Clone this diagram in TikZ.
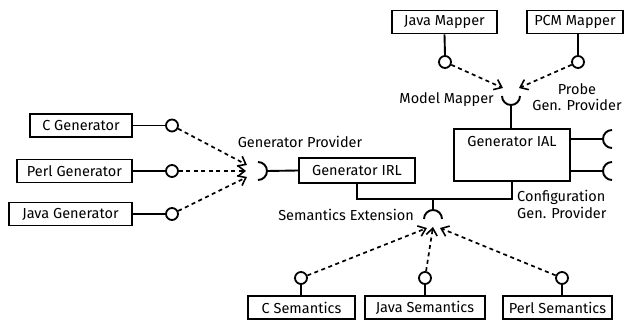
\documentclass[tikz,border=0pt]{standalone}
\usepackage{fontspec}
\setmainfont{Fira Sans}
\usetikzlibrary{arrows.meta}
\begin{document}
\begin{tikzpicture}[x=1pt,y=1pt,
  comp/.style={draw,line width=1.9pt,minimum height=23pt,inner sep=0pt,font=\fontsize{14.5}{17}\selectfont},
  lolli/.style={draw,circle,line width=1.8pt,minimum size=12pt,inner sep=0pt,fill=white},
  wire/.style={line width=1.9pt},
  sock/.style={line width=1.9pt},
  dep/.style={line width=1.7pt,dash pattern=on 4pt off 3.5pt,-{Straight Barb[length=7pt,width=11pt,line width=1.6pt]}},
  lbl/.style={font=\fontsize{14.5}{16.5}\selectfont,inner sep=0pt}]
\useasboundingbox (0,0) rectangle (633,-320);

% generator components on the left
\node[comp,minimum width=102pt] (cgen)    at (81,-125.5)   {C Generator};
\node[comp,minimum width=115pt] (perlgen) at (74.5,-171)   {Perl Generator};
\node[comp,minimum width=123pt] (javagen) at (70.5,-214)   {Java Generator};
\node[lolli] (cgc) at (172,-125.5) {};
\node[lolli] (pgc) at (172,-171) {};
\node[lolli] (jgc) at (172,-214) {};
\draw[wire] (cgen.east) -- (cgc.west);
\draw[wire] (perlgen.east) -- (pgc.west);
\draw[wire] (javagen.east) -- (jgc.west);

% generator IRL and its provider socket
\node[comp,minimum width=116pt,minimum height=25pt] (irl) at (357,-170.5) {Generator IRL};
\draw[sock] (258,-162) arc[start angle=90,end angle=-90,radius=9] coordinate[pos=0.5] (gpr);
\draw[wire] (gpr) -- (irl.west);
\coordinate (gp1) at (247,-165);
\coordinate (gp2) at (246,-171);
\coordinate (gp3) at (247,-177);
\draw[dep] (cgc) -- (gp1);
\draw[dep] (pgc) -- (gp2);
\draw[dep] (jgc) -- (gp3);
\node[lbl] (gplbl) at (300,-142) {Generator Provider};

% generator IAL
\node[draw,line width=1.9pt,minimum width=116pt,minimum height=52pt,inner sep=0pt] (ial) at (512,-155) {};
\node[lbl] (iallbl) at (512,-142) {Generator IAL};

% mappers
\node[comp,minimum width=105pt] (javamap) at (444.5,-22) {Java Mapper};
\node[comp,minimum width=96pt]  (pcmmap)  at (575,-22)   {PCM Mapper};
\node[lolli] (jmc) at (445,-62) {};
\node[lolli] (pmc) at (578,-62) {};
\draw[wire] (javamap.south) -- (jmc.north);
\draw[wire] (pcmmap.south -| pmc) -- (pmc.north);
\draw[sock] (502,-96) arc[start angle=180,end angle=360,radius=9] coordinate[pos=0.5] (mmb);
\draw[wire] (mmb) -- (mmb |- ial.north);
\coordinate (mm1) at (503,-88);
\coordinate (mm2) at (519,-88);
\draw[dep] (jmc) -- (mm1);
\draw[dep] (pmc) -- (mm2);
\node[lbl,anchor=east] (mmlbl) at (494,-100) {Model Mapper};
\node[lbl,align=center] (problbl) at (577,-97) {Probe\\Gen. Provider};

% provided sockets on the right of IAL
\draw[sock] (612,-130) arc[start angle=90,end angle=270,radius=9] coordinate[pos=0.5] (s1);
\draw[sock] (612,-162) arc[start angle=90,end angle=270,radius=9] coordinate[pos=0.5] (s2);
\draw[wire] (ial.east |- s1) -- (s1);
\draw[wire] (ial.east |- s2) -- (s2);

% bus between IRL and IAL with the semantics socket
\coordinate (bus) at (433,-199);
\draw[wire] (irl.south) |- (bus) -| (ial.south);
\draw[sock] (442,-219) arc[start angle=0,end angle=180,radius=9] coordinate[pos=0.5] (set);
\draw[wire] (bus) -- (set);
\node[lbl,align=left,anchor=west] (cfglbl) at (517,-204.5) {Configuration\\Gen. Provider};
\node[lbl,anchor=east] (selbl) at (414,-215) {Semantics Extension};

% semantics components
\node[comp,minimum width=107pt] (csem)    at (301.5,-307.5) {C Semantics};
\node[comp,minimum width=120pt] (javasem) at (425,-307.5)   {Java Semantics};
\node[comp,minimum width=109pt] (perlsem) at (557.5,-307.5) {Perl Semantics};
\node[lolli] (csc) at (301,-278) {};
\node[lolli] (jsc) at (425,-278) {};
\node[lolli] (psc) at (562,-278) {};
\draw[wire] (csc.south) -- (csc.south |- csem.north);
\draw[wire] (jsc.south) -- (javasem.north);
\draw[wire] (psc.south) -- (psc.south |- perlsem.north);
\coordinate (se1) at (427,-228);
\coordinate (se2) at (433,-227);
\coordinate (se3) at (440,-228);
\draw[dep] (csc) -- (se1);
\draw[dep] (jsc) -- (se2);
\draw[dep] (psc) -- (se3);
\end{tikzpicture}
\end{document}
